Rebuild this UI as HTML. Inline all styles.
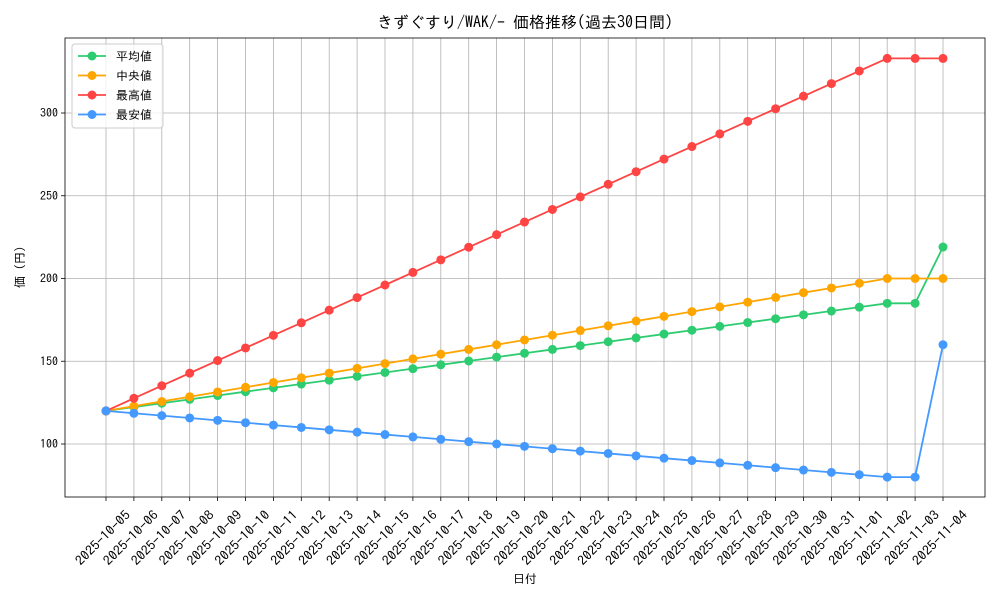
<!DOCTYPE html>
<html><head><meta charset="utf-8"><style>
body{margin:0;background:#fff}
svg text{font-family:"IPAGothic","Liberation Sans","Noto Sans CJK JP",sans-serif;fill:#000}
</style></head><body>
<svg id="s" width="1000" height="600" xmlns="http://www.w3.org/2000/svg">
<rect width="1000" height="600" fill="#fff"/>
<text x="525" y="28" font-size="16" text-anchor="middle">きずぐすり/WAK/- 価格推移(過去30日間)</text>
<text x="525" y="583" font-size="12" text-anchor="middle">日付</text>
<text transform="translate(24,267) rotate(-90)" font-size="12" text-anchor="middle">価 (円)</text>
</svg>
<script>
var s=document.getElementById('s'),h='';
function X(i){return 106+i*27.9}
function Y(v){return 444-(v-100)*1.655}
for(var i=0;i<31;i++){
 h+='<line x1="'+X(i)+'" y1="38" x2="'+X(i)+'" y2="497" stroke="#b0b0b0" stroke-width="0.8"/>';
 h+='<line x1="'+X(i)+'" y1="497" x2="'+X(i)+'" y2="501" stroke="#000" stroke-width="0.8"/>';
 var d=new Date(Date.UTC(2025,9,5+i)),t=d.toISOString().slice(0,10);
 h+='<text font-size="13" text-anchor="middle" textLength="71" lengthAdjust="spacingAndGlyphs" transform="translate('+(X(i)+0)+',541) rotate(-45)">'+t+'</text>';
}
[100,150,200,250,300].forEach(function(v){
 h+='<line x1="65" y1="'+Y(v)+'" x2="985" y2="'+Y(v)+'" stroke="#b0b0b0" stroke-width="0.8"/>';
 h+='<line x1="61" y1="'+Y(v)+'" x2="65" y2="'+Y(v)+'" stroke="#000" stroke-width="0.8"/>';
 h+='<text x="58" y="'+(Y(v)+4)+'" font-size="12" text-anchor="end">'+v+'</text>';
});
h+='<rect x="65" y="38" width="920" height="459" fill="none" stroke="#000" stroke-width="0.8"/>';
function ser(f,c){var p=[],m='';for(var i=0;i<31;i++){var v=f(i);p.push(X(i)+','+Y(v));m+='<circle cx="'+X(i)+'" cy="'+Y(v)+'" r="4.5" fill="'+c+'"/>';}
 h+='<polyline points="'+p.join(' ')+'" fill="none" stroke="'+c+'" stroke-width="1.8"/>'+m;}
var S=[
 [function(i){return i<=28?120+i*65/28:(i==29?185:219)},'#2ecc71','平均値'],
 [function(i){return i<=28?120+i*80/28:200},'#ffa500','中央値'],
 [function(i){return i<=28?120+i*213/28:333},'#ff4444','最高値'],
 [function(i){return i<=28?120-i*40/28:(i==29?80:160)},'#4499ff','最安値']];
S.forEach(function(a){ser(a[0],a[1])});
h+='<rect x="72" y="44" width="91" height="84" fill="#fff" fill-opacity="0.8" stroke="#ccc" rx="3"/>';
S.forEach(function(a,k){var y=56+k*19.5;
 h+='<line x1="78" y1="'+y+'" x2="106" y2="'+y+'" stroke="'+a[1]+'" stroke-width="1.8"/><circle cx="92" cy="'+y+'" r="4.5" fill="'+a[1]+'"/>';
 h+='<text x="116" y="'+(y+4.5)+'" font-size="12">'+a[2]+'</text>';});
s.insertAdjacentHTML('beforeend',h);
</script>
</body></html>
